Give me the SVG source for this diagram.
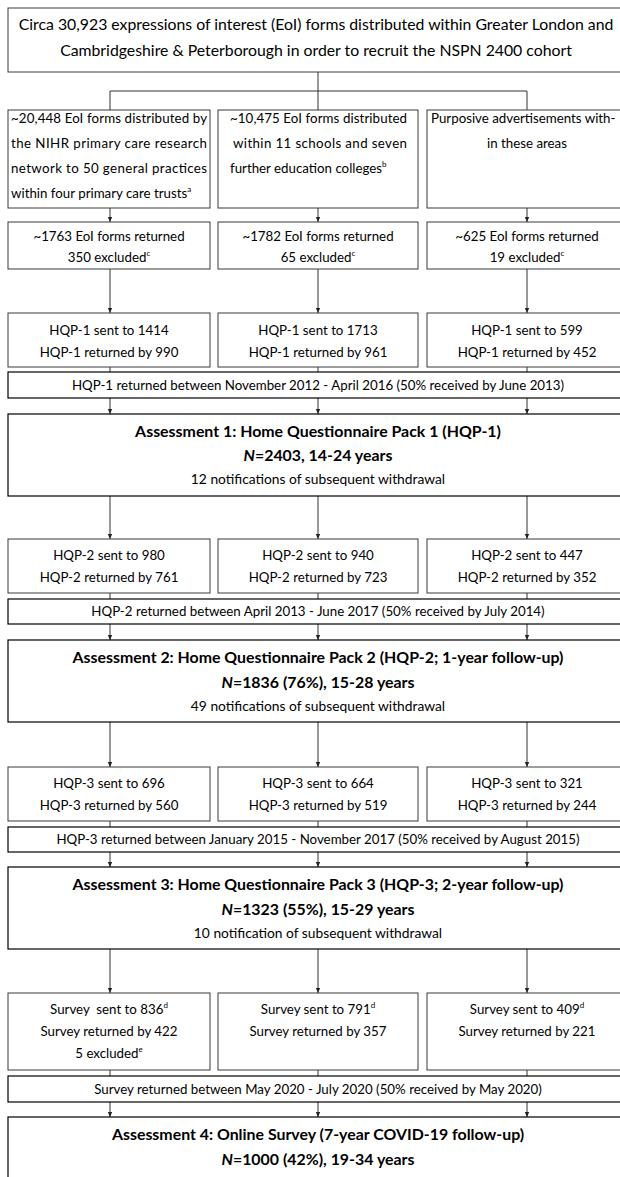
<svg xmlns="http://www.w3.org/2000/svg" width="620" height="1177" viewBox="0 0 620 1177">
<defs>
<marker id="ah" markerWidth="6" markerHeight="6" refX="5" refY="3" orient="auto" markerUnits="userSpaceOnUse">
<path d="M0,0.8 L5,3 L0,5.2 Z" fill="#222"/>
</marker>
<style>
text{font-family:Lato,"Open Sans","Liberation Sans",sans-serif;fill:#000;font-size:13.3px}
.c{text-anchor:middle}
.top{font-size:15.8px}
.b{font-weight:bold;font-size:15.9px}
.w{font-size:13.8px}
.sup{font-size:8px}
.pre{white-space:pre}
.box{fill:#fff;stroke:#3a3a3a;stroke-width:1}
.main{fill:#fff;stroke:#000;stroke-width:1.2}
.ln{fill:none;stroke:#333;stroke-width:1}
.ar{fill:none;stroke:#333;stroke-width:1;marker-end:url(#ah)}
</style>
</defs>
<rect width="620" height="1177" fill="#fff"/>

<g id="connectors">
<path class="ln" d="M318,72 V91 M110,91 H527 M110,91 V110 M318,91 V110 M527,91 V110"/>
<path class="ar" d="M110,208 V222"/><path class="ar" d="M318,208 V222"/><path class="ar" d="M527,208 V222"/>
<path class="ar" d="M110,269 V313"/><path class="ar" d="M318,269 V313"/><path class="ar" d="M527,269 V313"/>
<path class="ln" d="M110,367 V372 M318,367 V372 M527,367 V372"/>
<path class="ar" d="M110,398 V414"/><path class="ar" d="M318,398 V414"/><path class="ar" d="M527,398 V414"/>
<path class="ar" d="M110,496 V539"/><path class="ar" d="M318,496 V539"/><path class="ar" d="M527,496 V539"/>
<path class="ln" d="M110,593 V599 M318,593 V599 M527,593 V599"/>
<path class="ar" d="M110,624 V640"/><path class="ar" d="M318,624 V640"/><path class="ar" d="M527,624 V640"/>
<path class="ar" d="M110,722 V767"/><path class="ar" d="M318,722 V767"/><path class="ar" d="M527,722 V767"/>
<path class="ln" d="M110,821 V827 M318,821 V827 M527,821 V827"/>
<path class="ar" d="M110,852 V867"/><path class="ar" d="M318,852 V867"/><path class="ar" d="M527,852 V867"/>
<path class="ar" d="M110,949 V993"/><path class="ar" d="M318,949 V993"/><path class="ar" d="M527,949 V993"/>
<path class="ln" d="M110,1070 V1076 M318,1070 V1076 M527,1070 V1076"/>
<path class="ar" d="M110,1102 V1117"/><path class="ar" d="M318,1102 V1117"/><path class="ar" d="M527,1102 V1117"/>
</g>

<g id="n-top">
<rect class="box" x="8" y="8" width="624" height="64"/>
<text class="c top" x="316" y="30">Circa 30,923 expressions of interest (EoI) forms distributed within Greater London and</text>
<text class="c top" x="316" y="56">Cambridgeshire &amp; Peterborough in order to recruit the NSPN 2400 cohort</text>
</g>

<g id="n-gp">
<rect class="box" x="8" y="110" width="202" height="98"/>
<text x="11" y="123" textLength="196" lengthAdjust="spacing">~20,448 EoI forms distributed by</text>
<text x="11" y="148" textLength="196" lengthAdjust="spacing">the NIHR primary care research</text>
<text x="11" y="173" textLength="196" lengthAdjust="spacing">network to 50 general practices</text>
<text x="11" y="198">within four primary care trusts<tspan class="sup" dy="-6">a</tspan></text>
</g>
<g id="n-school">
<rect class="box" x="218" y="110" width="200" height="98"/>
<text x="230" y="123" textLength="177" lengthAdjust="spacing">~10,475 EoI forms distributed</text>
<text x="233" y="148" textLength="174" lengthAdjust="spacing">within 11 schools and seven</text>
<text x="230" y="173">further education colleges<tspan class="sup" dy="-6">b</tspan></text>
</g>
<g id="n-adv">
<rect class="box" x="427" y="110" width="205" height="98"/>
<text x="431" y="123">Purposive advertisements with-</text>
<text class="c" x="527" y="148">in these areas</text>
</g>

<g id="n-ret1">
<rect class="box" x="8" y="222" width="202" height="47"/>
<text class="c" x="109" y="241">~1763 EoI forms returned</text>
<text class="c" x="109" y="262">350 excluded<tspan class="sup" dy="-6">c</tspan></text>
</g>
<g id="n-ret2">
<rect class="box" x="218" y="222" width="200" height="47"/>
<text class="c" x="318" y="241">~1782 EoI forms returned</text>
<text class="c" x="318" y="262">65 excluded<tspan class="sup" dy="-6">c</tspan></text>
</g>
<g id="n-ret3">
<rect class="box" x="427" y="222" width="205" height="47"/>
<text class="c" x="527" y="241">~625 EoI forms returned</text>
<text class="c" x="527" y="262">19 excluded<tspan class="sup" dy="-6">c</tspan></text>
</g>

<g id="n-h1a">
<rect class="box" x="8" y="313" width="202" height="54"/>
<text class="c" x="109" y="335">HQP-1 sent to 1414</text>
<text class="c" x="109" y="357">HQP-1 returned by 990</text>
</g>
<g id="n-h1b">
<rect class="box" x="218" y="313" width="200" height="54"/>
<text class="c" x="318" y="335">HQP-1 sent to 1713</text>
<text class="c" x="318" y="357">HQP-1 returned by 961</text>
</g>
<g id="n-h1c">
<rect class="box" x="427" y="313" width="205" height="54"/>
<text class="c" x="527" y="335">HQP-1 sent to 599</text>
<text class="c" x="527" y="357">HQP-1 returned by 452</text>
</g>
<g id="n-band1">
<rect class="main" x="8" y="372" width="624" height="26"/>
<text class="c" x="318" y="390">HQP-1 returned between November 2012 - April 2016 (50% received by June 2013)</text>
</g>
<g id="n-a1">
<rect class="main" x="8" y="414" width="624" height="82"/>
<text class="c b" x="318" y="437">Assessment 1: Home Questionnaire Pack 1 (HQP-1)</text>
<text class="c b" x="318" y="461"><tspan font-style="italic">N</tspan>=2403, 14-24 years</text>
<text class="c w" x="318" y="484">12 notifications of subsequent withdrawal</text>
</g>

<g id="n-h2a">
<rect class="box" x="8" y="539" width="202" height="54"/>
<text class="c" x="109" y="560">HQP-2 sent to 980</text>
<text class="c" x="109" y="582">HQP-2 returned by 761</text>
</g>
<g id="n-h2b">
<rect class="box" x="218" y="539" width="200" height="54"/>
<text class="c" x="318" y="560">HQP-2 sent to 940</text>
<text class="c" x="318" y="582">HQP-2 returned by 723</text>
</g>
<g id="n-h2c">
<rect class="box" x="427" y="539" width="205" height="54"/>
<text class="c" x="527" y="560">HQP-2 sent to 447</text>
<text class="c" x="527" y="582">HQP-2 returned by 352</text>
</g>
<g id="n-band2">
<rect class="main" x="8" y="599" width="624" height="25"/>
<text class="c" x="318" y="616">HQP-2 returned between April 2013 - June 2017 (50% received by July 2014)</text>
</g>
<g id="n-a2">
<rect class="main" x="8" y="640" width="624" height="82"/>
<text class="c b" x="318" y="663">Assessment 2: Home Questionnaire Pack 2 (HQP-2; 1-year follow-up)</text>
<text class="c b" x="318" y="688"><tspan font-style="italic">N</tspan>=1836 (76%), 15-28 years</text>
<text class="c w" x="318" y="711">49 notifications of subsequent withdrawal</text>
</g>

<g id="n-h3a">
<rect class="box" x="8" y="767" width="202" height="54"/>
<text class="c" x="109" y="788">HQP-3 sent to 696</text>
<text class="c" x="109" y="810">HQP-3 returned by 560</text>
</g>
<g id="n-h3b">
<rect class="box" x="218" y="767" width="200" height="54"/>
<text class="c" x="318" y="788">HQP-3 sent to 664</text>
<text class="c" x="318" y="810">HQP-3 returned by 519</text>
</g>
<g id="n-h3c">
<rect class="box" x="427" y="767" width="205" height="54"/>
<text class="c" x="527" y="788">HQP-3 sent to 321</text>
<text class="c" x="527" y="810">HQP-3 returned by 244</text>
</g>
<g id="n-band3">
<rect class="main" x="8" y="827" width="624" height="25"/>
<text class="c" x="318" y="844">HQP-3 returned between January 2015 - November 2017 (50% received by August 2015)</text>
</g>
<g id="n-a3">
<rect class="main" x="8" y="867" width="624" height="82"/>
<text class="c b" x="318" y="890">Assessment 3: Home Questionnaire Pack 3 (HQP-3; 2-year follow-up)</text>
<text class="c b" x="318" y="915"><tspan font-style="italic">N</tspan>=1323 (55%), 15-29 years</text>
<text class="c w" x="318" y="938">10 notification of subsequent withdrawal</text>
</g>

<g id="n-s1">
<rect class="box" x="8" y="993" width="202" height="77"/>
<text class="c pre" x="109" y="1014">Survey  sent to 836<tspan class="sup" dy="-6">d</tspan></text>
<text class="c" x="109" y="1036">Survey returned by 422</text>
<text class="c" x="109" y="1058">5 excluded<tspan class="sup" dy="-6">e</tspan></text>
</g>
<g id="n-s2">
<rect class="box" x="218" y="993" width="200" height="77"/>
<text class="c" x="318" y="1014">Survey sent to 791<tspan class="sup" dy="-6">d</tspan></text>
<text class="c" x="318" y="1036">Survey returned by 357</text>
</g>
<g id="n-s3">
<rect class="box" x="427" y="993" width="205" height="77"/>
<text class="c" x="527" y="1014">Survey sent to 409<tspan class="sup" dy="-6">d</tspan></text>
<text class="c" x="527" y="1036">Survey returned by 221</text>
</g>
<g id="n-band4">
<rect class="main" x="8" y="1076" width="624" height="26"/>
<text class="c" x="318" y="1094">Survey returned between May 2020 - July 2020 (50% received by May 2020)</text>
</g>
<g id="n-a4">
<rect class="main" x="8" y="1117" width="624" height="80"/>
<text class="c b" x="318" y="1140">Assessment 4: Online Survey (7-year COVID-19 follow-up)</text>
<text class="c b" x="318" y="1165"><tspan font-style="italic">N</tspan>=1000 (42%), 19-34 years</text>
</g>
</svg>
